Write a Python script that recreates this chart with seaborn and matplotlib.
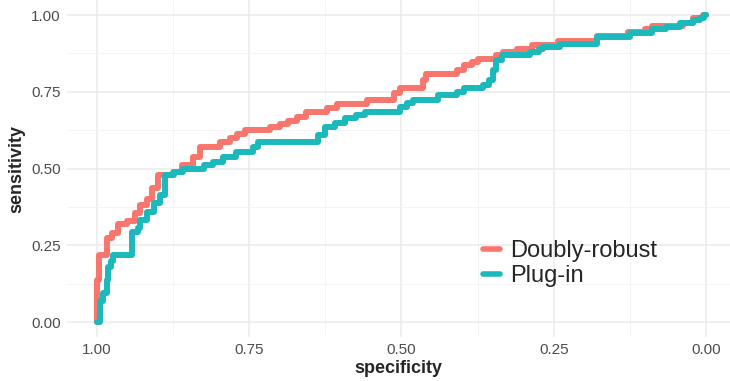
#!/usr/bin/env python3

import numpy as np
import pandas as pd
import matplotlib
matplotlib.use("Agg")
import matplotlib.pyplot as plt
import seaborn as sns

# ======================================================
# DATA (ROC corners: specificity where the curve rises, new sensitivity)
# ======================================================
DR_SPEC = [1.000, 1.000, 0.996, 0.984, 0.975, 0.965, 0.950, 0.938, 0.929, 0.918,
           0.910, 0.899, 0.875, 0.861, 0.842, 0.831, 0.798, 0.782, 0.770, 0.757,
           0.716, 0.700, 0.686, 0.672, 0.656, 0.623, 0.606, 0.557, 0.513, 0.502,
           0.464, 0.459, 0.409, 0.398, 0.385, 0.374, 0.344, 0.333, 0.311, 0.286,
           0.243, 0.179, 0.128, 0.100, 0.089, 0.037, 0.021, 0.005, 0.000]
DR_SENS = [0.000, 0.137, 0.218, 0.273, 0.290, 0.320, 0.330, 0.355, 0.380, 0.400,
           0.436, 0.479, 0.490, 0.510, 0.537, 0.570, 0.586, 0.600, 0.612, 0.625,
           0.635, 0.645, 0.655, 0.668, 0.684, 0.697, 0.710, 0.723, 0.746, 0.762,
           0.788, 0.808, 0.821, 0.837, 0.847, 0.857, 0.870, 0.879, 0.889, 0.902,
           0.915, 0.932, 0.945, 0.955, 0.964, 0.975, 0.990, 1.000, 1.000]

PI_SPEC = [1.000, 0.995, 0.990, 0.984, 0.982, 0.977, 0.973, 0.943, 0.932, 0.929,
           0.918, 0.907, 0.896, 0.888, 0.874, 0.858, 0.825, 0.809, 0.793, 0.771,
           0.743, 0.735, 0.637, 0.626, 0.609, 0.593, 0.574, 0.560, 0.502, 0.491,
           0.481, 0.440, 0.409, 0.398, 0.366, 0.357, 0.349, 0.344, 0.335, 0.289,
           0.275, 0.267, 0.240, 0.179, 0.125, 0.089, 0.065, 0.043, 0.021, 0.010,
           0.004, 0.000]
PI_SENS = [0.000, 0.070, 0.094, 0.137, 0.180, 0.200, 0.218, 0.293, 0.305, 0.332,
           0.358, 0.387, 0.414, 0.479, 0.489, 0.500, 0.511, 0.522, 0.537, 0.554,
           0.570, 0.586, 0.609, 0.635, 0.648, 0.664, 0.674, 0.684, 0.700, 0.713,
           0.723, 0.739, 0.749, 0.762, 0.772, 0.788, 0.821, 0.853, 0.870, 0.879,
           0.889, 0.896, 0.906, 0.928, 0.941, 0.954, 0.961, 0.974, 0.984, 0.990,
           1.000, 1.000]

METHODS = ["Doubly-robust", "Plug-in"]
COLORS = {"Doubly-robust": "#F8766D", "Plug-in": "#1CB9BC"}

X_TICKS = [1.00, 0.75, 0.50, 0.25, 0.00]
Y_TICKS = [0.00, 0.25, 0.50, 0.75, 1.00]

# ======================================================
# BUILD TABLE
# ======================================================
df = pd.concat([
    pd.DataFrame({"specificity": DR_SPEC, "sensitivity": DR_SENS, "method": METHODS[0]}),
    pd.DataFrame({"specificity": PI_SPEC, "sensitivity": PI_SENS, "method": METHODS[1]}),
], ignore_index=True)

# ======================================================
# PLOT
# ======================================================
sns.set_style("white")
plt.rcParams["font.family"] = ["Liberation Sans", "DejaVu Sans"]

fig = plt.figure(figsize=(7.30, 3.81), dpi=100)
ax = fig.add_axes([66.5 / 730, 43.6 / 381, (730 - 66.5) / 730, 337.75 / 381])

sns.lineplot(
    data=df, x="specificity", y="sensitivity", hue="method",
    hue_order=METHODS, palette=COLORS, sort=False, estimator=None,
    drawstyle="steps-post", linewidth=4.3, ax=ax,
)

ax.set_xlim(1.05, -0.0394)
ax.set_ylim(-0.05, 1.05)

# ggplot-ish minimal grid
ax.set_xticks(X_TICKS)
ax.set_yticks(Y_TICKS)
ax.set_xticks([0.875, 0.625, 0.375, 0.125], minor=True)
ax.set_yticks([0.125, 0.375, 0.625, 0.875], minor=True)
ax.grid(which="major", color="#EBEBEB", linewidth=1.1)
ax.grid(which="minor", color="#F2F2F2", linewidth=0.6)
ax.set_axisbelow(True)
for s in ax.spines.values():
    s.set_visible(False)
ax.tick_params(which="both", length=0)
ax.tick_params(axis="both", labelsize=11, labelcolor="#4D4D4D", pad=4)
ax.set_xticklabels([f"{v:.2f}" for v in X_TICKS])
ax.set_yticklabels([f"{v:.2f}" for v in Y_TICKS])

ax.set_xlabel("specificity", fontsize=13, fontweight="bold", labelpad=2)
ax.set_ylabel("sensitivity", fontsize=13, fontweight="bold", labelpad=4)

leg = ax.legend(
    loc="center left", bbox_to_anchor=(0.627, 0.218), frameon=False,
    fontsize=17, handlelength=0.76, handletextpad=0.42, labelspacing=0.14,
    borderaxespad=0, borderpad=0,
)
for line in leg.get_lines():
    line.set_linewidth(4.0)

fig.savefig("out.png", dpi=100)
